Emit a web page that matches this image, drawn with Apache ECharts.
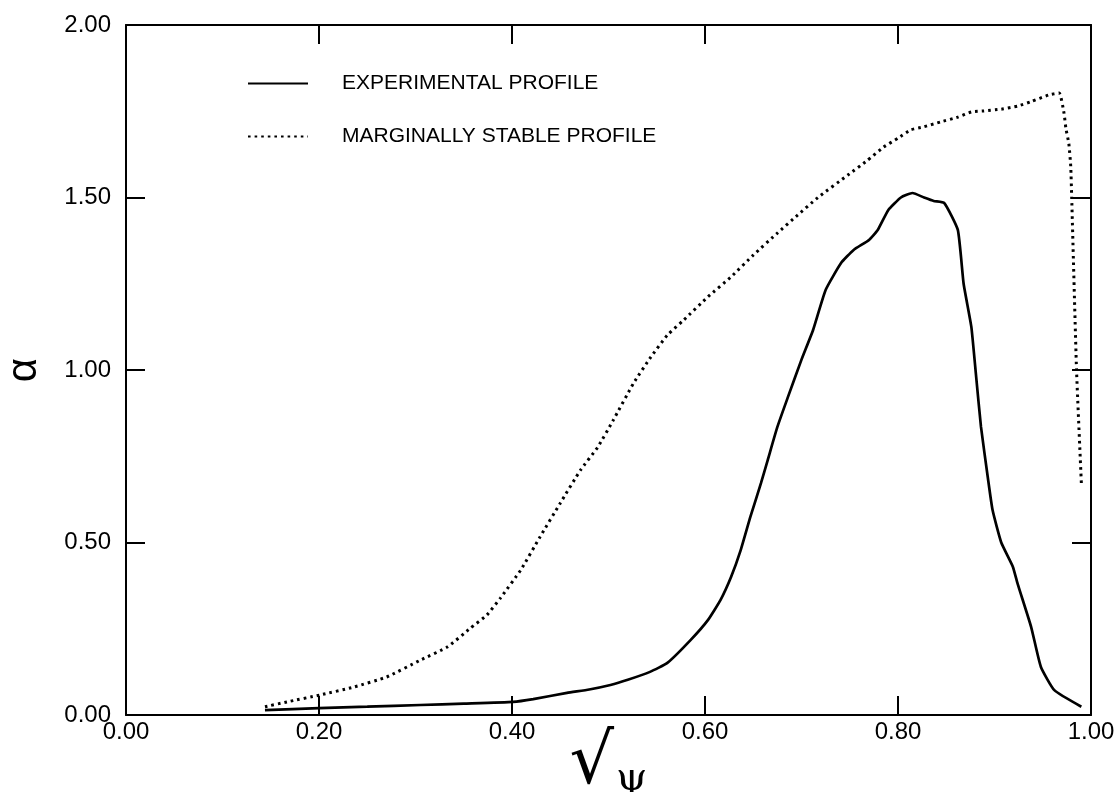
<!DOCTYPE html>
<html>
<head>
<meta charset="utf-8">
<script src="https://cdn.jsdelivr.net/npm/echarts@6/dist/echarts.min.js"></script>
<style>
html,body{margin:0;padding:0;background:#fff;}
#chart{width:1119px;height:792px;}
</style>
</head>
<body>
<div id="chart"></div>
<script>
// Data
const expX = [0.144,0.20,0.25,0.305,0.35,0.401,0.422,0.457,0.48,0.502,0.52,0.543,0.561,0.585,0.603,0.616,0.627,0.637,0.647,0.658,0.665,0.675,0.686,0.70,0.712,0.725,0.741,0.754,0.770,0.779,0.790,0.803,0.815,0.827,0.837,0.848,0.862,0.868,0.876,0.881,0.886,0.893,0.898,0.907,0.919,0.924,0.938,0.948,0.962,0.99];
const expY = [0.014,0.02,0.024,0.029,0.033,0.038,0.046,0.064,0.074,0.087,0.102,0.125,0.151,0.217,0.275,0.333,0.40,0.478,0.574,0.672,0.739,0.835,0.922,1.03,1.116,1.232,1.31,1.348,1.377,1.406,1.464,1.50,1.513,1.50,1.49,1.484,1.406,1.25,1.125,0.98,0.835,0.69,0.594,0.50,0.43,0.38,0.255,0.14,0.072,0.024];
const margX = [0.144,0.167,0.201,0.236,0.270,0.305,0.333,0.357,0.374,0.388,0.409,0.429,0.450,0.471,0.489,0.505,0.526,0.544,0.561,0.578,0.603,0.627,0.650,0.675,0.696,0.717,0.748,0.768,0.785,0.800,0.813,0.827,0.844,0.862,0.876,0.889,0.907,0.924,0.938,0.956,0.967,0.972,0.974,0.977,0.979,0.980,0.985,0.990];
const margY = [0.024,0.038,0.058,0.081,0.110,0.159,0.197,0.252,0.290,0.339,0.42,0.516,0.614,0.71,0.777,0.855,0.962,1.038,1.101,1.145,1.212,1.27,1.333,1.397,1.449,1.50,1.565,1.607,1.646,1.672,1.696,1.705,1.719,1.733,1.748,1.751,1.756,1.765,1.778,1.797,1.803,1.745,1.70,1.657,1.59,1.50,1.00,0.672];
const seriesNames = ['EXPERIMENTAL PROFILE', 'MARGINALLY STABLE PROFILE'];
const xTickLabels = ['0.00','0.20','0.40','0.60','0.80','1.00'];
const yTickLabels = ['0.00','0.50','1.00','1.50','2.00'];

const pairs = (xs, ys) => xs.map((x, i) => [x, ys[i]]);
const FONT = '"Liberation Sans", Arial, sans-serif';

const chart = echarts.init(document.getElementById('chart'), null, {renderer: 'canvas'});
const axisLine = {show: true, onZero: false, lineStyle: {color: '#000', width: 2}};
const tick = {show: true, inside: true, length: 19, lineStyle: {color: '#000', width: 2}};

chart.setOption({
  backgroundColor: '#fff',
  animation: false,
  grid: {left: 126, right: 28, top: 25, bottom: 77, outerBoundsMode: 'none', containLabel: false},
  legend: {
    orient: 'vertical', left: 247, top: 73, padding: 0,
    itemWidth: 60, itemHeight: 20, itemGap: 32,
    selectedMode: false,
    itemStyle: {color: 'transparent', borderWidth: 0, opacity: 0},
    textStyle: {fontFamily: FONT, fontSize: 21, color: '#000', padding: [0, 0, 0, 29]},
    data: seriesNames
  },
  xAxis: [{
    type: 'value', min: 0, max: 1, interval: 0.2, position: 'bottom',
    axisLine, axisTick: tick, splitLine: {show: false},
    axisLabel: {fontFamily: FONT, fontSize: 24, color: '#000', margin: 5,
      formatter: v => xTickLabels[Math.round(v / 0.2)]},
    name: '{a|√}{b|ψ}', nameLocation: 'middle', nameGap: 50, nameMoveOverlap: false,
    nameTextStyle: {
      verticalAlign: 'middle',
      rich: {
        a: {fontFamily: '"DejaVu Sans", sans-serif', fontSize: 70, color: '#000'},
        b: {fontFamily: '"DejaVu Serif", serif', fontSize: 40, color: '#000', verticalAlign: 'bottom', padding: [0,0,0,2]}
      }
    }
  }, {
    type: 'value', min: 0, max: 1, interval: 0.2, position: 'top',
    axisLine, axisTick: tick, splitLine: {show: false}, axisLabel: {show: false}
  }],
  yAxis: [{
    type: 'value', min: 0, max: 2, interval: 0.5, position: 'left',
    axisLine, axisTick: tick, splitLine: {show: false},
    axisLabel: {fontFamily: FONT, fontSize: 24, color: '#000', margin: 15,
      formatter: v => yTickLabels[Math.round(v / 0.5)]},
    name: 'α', nameLocation: 'middle', nameRotate: 90, nameGap: 102, nameMoveOverlap: false,
    nameTextStyle: {fontFamily: FONT, fontSize: 42, color: '#000', verticalAlign: 'middle'}
  }, {
    type: 'value', min: 0, max: 2, interval: 0.5, position: 'right',
    axisLine, axisTick: tick, splitLine: {show: false}, axisLabel: {show: false}
  }],
  series: [{
    name: seriesNames[0], type: 'line', xAxisIndex: 0, yAxisIndex: 0,
    data: pairs(expX, expY), showSymbol: false, symbol: 'none', smooth: 0.15,
    lineStyle: {color: '#000', width: 2.7}, itemStyle: {color: '#000'}
  }, {
    name: seriesNames[1], type: 'line', xAxisIndex: 0, yAxisIndex: 0,
    data: pairs(margX, margY), showSymbol: false, symbol: 'none', smooth: 0.15,
    lineStyle: {color: '#000', width: 3, type: [2.6, 4]}, itemStyle: {color: '#000'}
  }]
});
</script>
</body>
</html>
